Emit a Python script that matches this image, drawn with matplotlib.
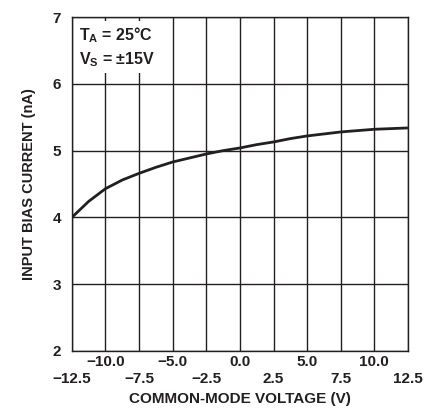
import numpy as np
import matplotlib
matplotlib.use("Agg")
import matplotlib.pyplot as plt

# values
voltage = [-12.5, -11.25, -10.0, -8.75, -7.5, -6.25, -5.0, -3.75, -2.5, -1.25, 0.0,
           1.25, 2.5, 3.75, 5.0, 6.25, 7.5, 8.75, 10.0, 11.25, 12.5]
bias_current = [4.00, 4.24, 4.43, 4.56, 4.66, 4.75, 4.83, 4.89, 4.95, 5.00, 5.04,
                5.09, 5.13, 5.18, 5.22, 5.25, 5.28, 5.30, 5.32, 5.33, 5.34]

x_ticks_low = [-12.5, -7.5, -2.5, 2.5, 7.5, 12.5]
x_ticks_high = [-10.0, -5.0, 0.0, 5.0, 10.0]
y_ticks = [2, 3, 4, 5, 6, 7]

plt.rcParams['font.family'] = ['Liberation Sans', 'DejaVu Sans']
plt.rcParams['font.weight'] = 'bold'
plt.rcParams['mathtext.fontset'] = 'custom'
plt.rcParams['mathtext.rm'] = 'Liberation Sans:bold'
plt.rcParams['mathtext.it'] = 'Liberation Sans:bold'
plt.rcParams['mathtext.bf'] = 'Liberation Sans:bold'

ink = '#231f20'


def fmt(v):
    return f"{v:.1f}".replace('-', '\u2212')


fig = plt.figure(figsize=(4.41, 4.08), dpi=100)
ax = fig.add_axes([0.163, 0.140, 0.762, 0.818])

ax.plot(voltage, bias_current, color=ink, lw=2.0, solid_capstyle='butt', zorder=3)

ax.set_xlim(-12.5, 12.5)
ax.set_ylim(2, 7)

ax.set_xticks(x_ticks_low)
ax.set_xticklabels([fmt(v) for v in x_ticks_low])
ax.set_xticks(x_ticks_high, minor=True)
ax.set_xticklabels([fmt(v) for v in x_ticks_high], minor=True)
ax.set_yticks(y_ticks)
ax.set_yticklabels([str(v) for v in y_ticks])

ax.tick_params(axis='x', which='major', length=0, pad=15.5, labelsize=11, colors=ink)
ax.tick_params(axis='x', which='minor', length=0, pad=3, labelsize=11, colors=ink)
ax.tick_params(axis='y', length=0, pad=8, labelsize=11, colors=ink)

ax.grid(True, which='both', color=ink, lw=1.0)
ax.set_axisbelow(True)
for s in ax.spines.values():
    s.set_color(ink)
    s.set_linewidth(1.0)

ax.set_xlabel("COMMON-MODE VOLTAGE (V)", fontsize=11, fontweight='bold', color=ink, labelpad=4)
ax.set_ylabel("INPUT BIAS CURRENT (nA)", fontsize=10.5, fontweight='bold', color=ink, labelpad=12)

ax.text(0.02, 0.975, "T$_\\mathrm{A}$ = 25°C\nV$_\\mathrm{S}$ = ±15V", transform=ax.transAxes,
        ha='left', va='top', fontsize=11.5, fontweight='bold', color=ink, linespacing=1.35,
        bbox=dict(boxstyle='square,pad=0.25', fc='white', ec='none'), zorder=4)

fig.savefig("out.png", dpi=100)
